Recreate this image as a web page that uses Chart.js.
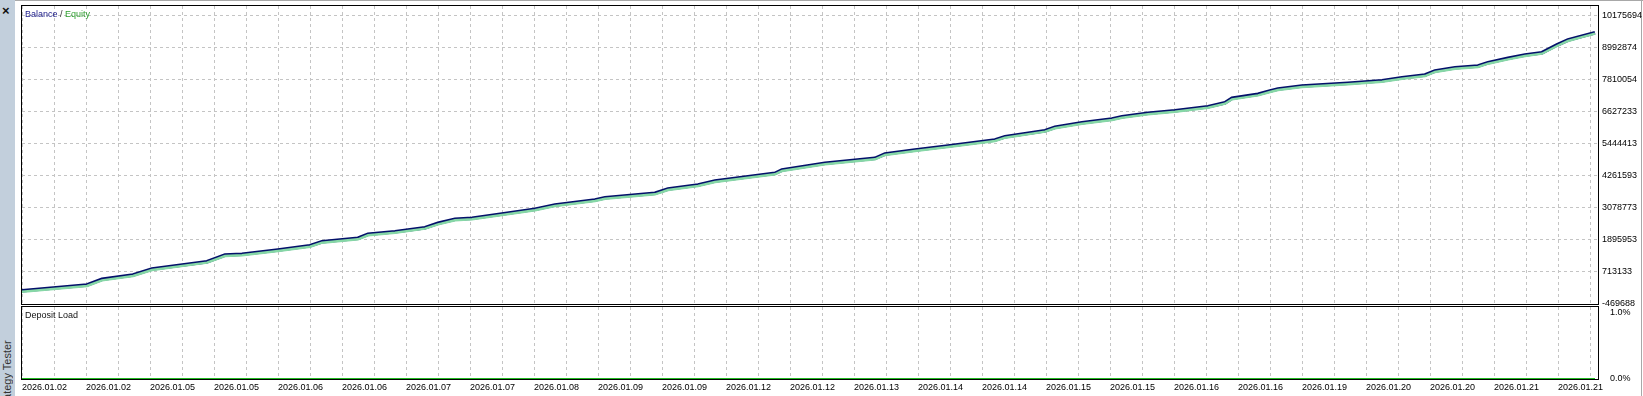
<!DOCTYPE html>
<html>
<head>
<meta charset="utf-8">
<script src="https://cdn.jsdelivr.net/npm/chart.js@4/dist/chart.umd.min.js"></script>
<style>
  html, body { margin: 0; padding: 0; background: #ffffff; }
  body { width: 1643px; height: 396px; position: relative; overflow: hidden; font-family: "Liberation Sans", Arial, sans-serif; }
  canvas { position: absolute; left: 0; }
  #balanceChart { top: 0; }
  #loadChart { top: 300px; }
  .sidebar { position: absolute; left: 0; top: 0; width: 15px; height: 396px; background: #c2cfdc; }
  .close { position: absolute; left: 2px; top: 4px; font-size: 13px; line-height: 14px; color: #111; font-weight: bold; }
  .sideTitle { position: absolute; left: 0; top: 340px; width: 15px; height: 110px; writing-mode: vertical-rl; transform: rotate(180deg); text-align: end; font-size: 11px; line-height: 15px; color: #333; white-space: nowrap; }
  .topline { position: absolute; left: 15px; top: 0; width: 1628px; height: 1px; background: #a8a8a8; }
  .rightline { position: absolute; left: 1641px; top: 0; width: 1px; height: 396px; background: #a8a8a8; }
  .label { position: absolute; font-size: 9px; line-height: 10px; white-space: nowrap; }
</style>
</head>
<body>
<div class="sidebar"></div>
<div class="close">×</div>
<div class="sideTitle">Strategy Tester</div>
<div class="topline"></div>
<div class="rightline"></div>
<canvas id="balanceChart" width="1643" height="320"></canvas>
<canvas id="loadChart" width="1643" height="96"></canvas>
<div class="label" style="left:25px; top:9px;"><span style="color:#1c1c8a">Balance</span> <span style="color:#333">/</span> <span style="color:#2e9e2e">Equity</span></div>
<div class="label" style="left:25px; top:310px; color:#111;">Deposit Load</div>
<script>
// Data (x = deal number)
const DEALS = [0, 65, 80, 111, 130, 185, 203, 220, 256, 288, 300, 336, 346, 373, 403, 416, 433, 450, 480, 513,
    533, 573, 583, 633, 646, 676, 693, 753, 760, 803, 853, 863, 893, 926, 973, 983, 1023, 1033, 1060, 1090,
    1100, 1126, 1153, 1186, 1203, 1210, 1236, 1248, 1256, 1280, 1326, 1360, 1380, 1403, 1413, 1433, 1456, 1466, 1486, 1503,
    1520, 1535, 1546, 1558, 1573];
const BALANCE = [22000, 233000, 443000, 602000, 824000, 1094000, 1341000, 1367000, 1526000, 1685000,
    1833000, 1959000, 2107000, 2203000, 2351000, 2513000, 2661000, 2698000, 2857000, 3031000,
    3190000, 3374000, 3459000, 3622000, 3781000, 3929000, 4077000, 4361000, 4483000, 4731000,
    4916000, 5075000, 5223000, 5370000, 5592000, 5714000, 5936000, 6062000, 6232000, 6368000,
    6453000, 6579000, 6675000, 6823000, 6971000, 7134000, 7281000, 7403000, 7477000, 7588000,
    7688000, 7784000, 7895000, 7995000, 8143000, 8265000, 8328000, 8449000, 8612000, 8734000,
    8819000, 9104000, 9289000, 9411000, 9558000];
// equity sits on the balance curve at this scale
const EQUITY = BALANCE;
const LOAD_DEALS = [0, 1573];
const DEPOSIT_LOAD = [0, 0];

const Y_TICK_LABELS = ['-469688', '713133', '1895953', '3078773', '4261593', '5444413', '6627233', '7810054', '8992874', '10175694'];
const LOAD_TICK_LABELS = ['0.0%', '1.0%'];
const DATE_LABELS = ['2026.01.02', '2026.01.02', '2026.01.05', '2026.01.05', '2026.01.06', '2026.01.06', '2026.01.07',
    '2026.01.07', '2026.01.08', '2026.01.09', '2026.01.09', '2026.01.12', '2026.01.12', '2026.01.13', '2026.01.14',
    '2026.01.14', '2026.01.15', '2026.01.15', '2026.01.16', '2026.01.16', '2026.01.19', '2026.01.20', '2026.01.20',
    '2026.01.21', '2026.01.21'];

const X_MAX = 1576;
const X_GRID_STEP = 32;
const GRID_COLOR = '#c4c4c4';
const TICK_FONT = { family: '"Liberation Sans", Arial, sans-serif', size: 9, lineHeight: 1 };

function toPoints(xs, ys) {
    return xs.map((x, i) => ({ x: x, y: ys[i] }));
}

function xGridTicks(scale) {
    const ticks = [];
    for (let v = 0; v <= X_MAX; v += X_GRID_STEP) ticks.push({ value: v });
    scale.ticks = ticks;
}

// black frame around the plot area
const framePlugin = {
    id: 'frame',
    afterDraw(chart) {
        const a = chart.chartArea;
        const ctx = chart.ctx;
        ctx.save();
        ctx.strokeStyle = '#000000';
        ctx.lineWidth = 1;
        const l = Math.round(a.left) - 0.5, t = Math.round(a.top) - 0.5;
        const r = Math.round(a.right) + 0.5, b = Math.round(a.bottom) + 0.5;
        ctx.strokeRect(l, t, r - l, b - t);
        ctx.restore();
    }
};

// equity drawn one pixel under the balance
const equityShift = {
    id: 'equityShift',
    beforeDatasetDraw(chart, args) {
        if (args.index === 0) { chart.ctx.save(); chart.ctx.translate(0, 1); }
    },
    afterDatasetDraw(chart, args) {
        if (args.index === 0) chart.ctx.restore();
    }
};

new Chart(document.getElementById('balanceChart'), {
    type: 'line',
    data: {
        datasets: [
            { label: 'Equity', data: toPoints(DEALS, EQUITY), borderColor: '#86d8a6', borderWidth: 2.4, pointRadius: 0, tension: 0 },
            { label: 'Balance', data: toPoints(DEALS, BALANCE), borderColor: '#04106a', borderWidth: 3.6, pointRadius: 0, tension: 0 }
        ]
    },
    options: {
        responsive: false,
        animation: false,
        devicePixelRatio: 1,
        layout: { padding: { left: 22, top: 6, right: 0, bottom: 16 } },
        plugins: { legend: { display: false }, tooltip: { enabled: false } },
        scales: {
            x: {
                type: 'linear', min: 0, max: X_MAX,
                afterBuildTicks: xGridTicks,
                afterFit(scale) { scale.height = 0; scale.paddingLeft = 0; scale.paddingRight = 0; },
                ticks: { display: false },
                grid: { color: GRID_COLOR, drawTicks: false },
                border: { display: false, dash: [3, 3] }
            },
            y: {
                position: 'right',
                min: -469688, max: 10545300,
                afterBuildTicks(scale) { scale.ticks = Y_TICK_LABELS.map(s => ({ value: Number(s) })); },
                afterFit(scale) { scale.width = 45; scale.paddingTop = 0; scale.paddingBottom = 0; },
                ticks: {
                    padding: 4, color: '#000000', font: TICK_FONT,
                    callback: (v, i) => Y_TICK_LABELS[i]
                },
                grid: { color: GRID_COLOR, drawTicks: false },
                border: { display: false, dash: [3, 3] }
            }
        }
    },
    plugins: [framePlugin, equityShift]
});

new Chart(document.getElementById('loadChart'), {
    type: 'line',
    data: {
        datasets: [
            { label: 'Deposit Load', data: toPoints(LOAD_DEALS, DEPOSIT_LOAD), borderColor: '#22b822', borderWidth: 2, pointRadius: 0, clip: false }
        ]
    },
    options: {
        responsive: false,
        animation: false,
        devicePixelRatio: 1,
        layout: { padding: { left: 22, top: 7, right: 0, bottom: 0 } },
        plugins: { legend: { display: false }, tooltip: { enabled: false } },
        scales: {
            x: {
                type: 'linear', min: 0, max: X_MAX,
                afterBuildTicks: xGridTicks,
                afterFit(scale) { scale.height = 17; scale.paddingLeft = 0; scale.paddingRight = 0; },
                ticks: {
                    autoSkip: false, maxRotation: 0, align: 'start', padding: 4,
                    color: '#000000', font: TICK_FONT,
                    callback: (v, i) => (i % 2 === 0 ? (DATE_LABELS[i / 2] || '') : '')
                },
                grid: { color: GRID_COLOR, drawTicks: false },
                border: { display: false, dash: [3, 3] }
            },
            y: {
                position: 'right',
                min: 0, max: 1.09,
                afterBuildTicks(scale) { scale.ticks = [{ value: 0 }, { value: 1 }]; },
                afterFit(scale) { scale.width = 45; scale.paddingTop = 0; scale.paddingBottom = 0; },
                ticks: {
                    padding: 4, color: '#000000', font: TICK_FONT,
                    callback: (v, i) => LOAD_TICK_LABELS[i]
                },
                grid: { display: false },
                border: { display: false }
            }
        }
    },
    plugins: [framePlugin]
});
</script>
</body>
</html>
